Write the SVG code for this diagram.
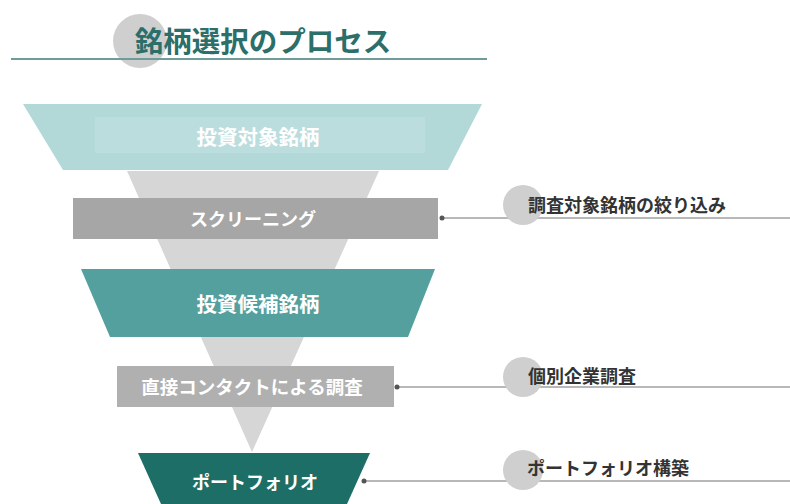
<svg xmlns="http://www.w3.org/2000/svg" width="790" height="504" viewBox="0 0 790 504">
<defs>
<style>
.t{font-family:"Noto Sans CJK JP","Noto Sans",sans-serif;font-weight:bold}
.w{fill:#ffffff;text-anchor:middle;dominant-baseline:central}
.lbl{fill:#333333;font-size:18px;dominant-baseline:central}
.conn{stroke:#a0a0a0;stroke-width:1.5;fill:none}
.dot{fill:#555555}
.bub{fill:#cfcfcf}
</style>
</defs>
<rect width="790" height="504" fill="#ffffff"/>
<g id="title">
<circle cx="140" cy="41" r="27" fill="#cfcfcf"/>
<line x1="11" y1="59" x2="487" y2="59" stroke="#6f9c9a" stroke-width="2"/>
<text class="t" x="263" y="39" font-size="28.5" fill="#2c6e69" text-anchor="middle" dominant-baseline="central">銘柄選択のプロセス</text>
</g>
<g id="funnel">
<polygon points="127,171 379,171 252,452" fill="#d6d6d6"/>
</g>
<g id="n1">
<polygon points="23,104 482,104 448,170 63,170" fill="#b3d8d8"/>
<rect x="95" y="117" width="330" height="36" fill="#bcdddd"/>
<text class="t w" x="258" y="136" font-size="20.5">投資対象銘柄</text>
</g>
<g id="n2">
<rect x="73" y="198" width="365" height="41" fill="#a6a6a6"/>
<text class="t w" x="253" y="218" font-size="18">スクリーニング</text>
</g>
<g id="n3">
<polygon points="81,269 435,269 408,337 110,337" fill="#54a09e"/>
<text class="t w" x="258" y="303" font-size="20.5">投資候補銘柄</text>
</g>
<g id="n4">
<rect x="117" y="366" width="277" height="41" fill="#b0b0b0"/>
<text class="t w" x="252" y="386" font-size="18.5">直接コンタクトによる調査</text>
</g>
<g id="n5">
<polygon points="138,453 370,453 347,504 161,504" fill="#1d6e66"/>
<text class="t w" x="255" y="481" font-size="18">ポートフォリオ</text>
</g>
<g id="connectors">
<line class="conn" x1="442" y1="218" x2="790" y2="218"/>
<circle class="dot" cx="442" cy="218" r="2.5"/>
<line class="conn" x1="397" y1="387" x2="790" y2="387"/>
<circle class="dot" cx="397" cy="387" r="2.5"/>
<line class="conn" x1="364" y1="481" x2="790" y2="481"/>
<circle class="dot" cx="364" cy="481" r="2.5"/>
</g>
<g id="a1">
<circle class="bub" cx="523" cy="205" r="20"/>
<text class="t lbl" x="528" y="204">調査対象銘柄の絞り込み</text>
</g>
<g id="a2">
<circle class="bub" cx="523" cy="377" r="20"/>
<text class="t lbl" x="528" y="375">個別企業調査</text>
</g>
<g id="a3">
<circle class="bub" cx="523" cy="470" r="20"/>
<text class="t lbl" x="527" y="467">ポートフォリオ構築</text>
</g>
</svg>
